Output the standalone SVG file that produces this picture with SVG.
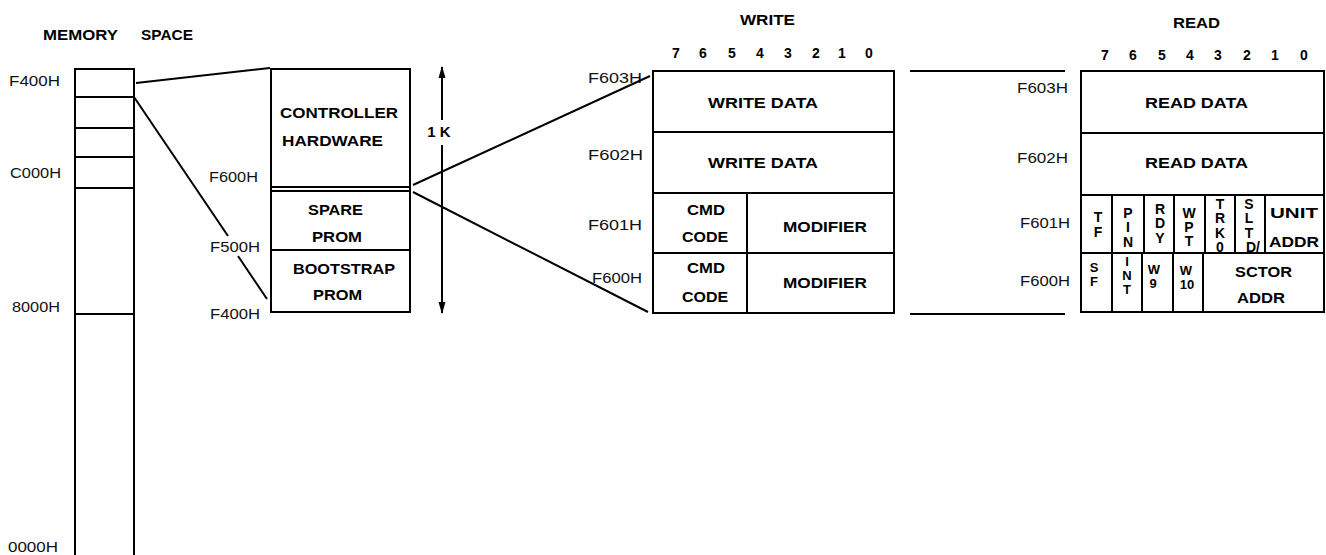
<svg xmlns="http://www.w3.org/2000/svg" width="1326" height="555" viewBox="0 0 1326 555">
<style>
  .ln { stroke:#000; stroke-width:2; fill:none; }
  .bx { stroke:#000; stroke-width:2; fill:#fff; }
  .t { font-family:"Liberation Sans", Arial, sans-serif; font-weight:bold; font-size:15px; fill:#000; }
  .a { font-family:"Liberation Sans", Arial, sans-serif; font-size:14px; fill:#111; }
  .n { font-family:"Liberation Sans", Arial, sans-serif; font-weight:bold; font-size:14px; fill:#000; text-anchor:middle; }
  .s { font-family:"Liberation Sans", Arial, sans-serif; font-weight:bold; font-size:14px; fill:#000; text-anchor:middle; }
  .s2 { font-family:"Liberation Sans", Arial, sans-serif; font-weight:bold; font-size:13px; fill:#000; text-anchor:middle; }
</style>
<defs>
  <marker id="ah" viewBox="0 0 12 8" refX="11" refY="4" markerWidth="12" markerHeight="8" orient="auto" markerUnits="userSpaceOnUse">
    <path d="M0,0.5 L12,4 L0,7.5 Z" fill="#000"/>
  </marker>
</defs>
<rect width="1326" height="555" fill="#fff"/>

<g id="memory-space">
  <text class="t" x="43" y="40" textLength="75" lengthAdjust="spacingAndGlyphs">MEMORY</text>
  <text class="t" x="141" y="40" textLength="52" lengthAdjust="spacingAndGlyphs">SPACE</text>
  <path class="ln" d="M75,555 V69 H134 V555"/>
  <path class="ln" d="M75,97 H134 M75,128 H134 M75,157 H134 M75,188 H134 M75,314 H134"/>
  <text class="a" x="9" y="86" textLength="51" lengthAdjust="spacingAndGlyphs">F400H</text>
  <text class="a" x="10" y="178" textLength="51" lengthAdjust="spacingAndGlyphs">C000H</text>
  <text class="a" x="12" y="312" textLength="48" lengthAdjust="spacingAndGlyphs">8000H</text>
  <text class="a" x="8" y="552" textLength="50" lengthAdjust="spacingAndGlyphs">0000H</text>
</g>

<g id="controller-box">
  <rect class="bx" x="271" y="69" width="139" height="243"/>
  <path class="ln" d="M271,187 H410 M271,191 H410 M271,250 H410"/>
  <text class="t" x="280" y="118" textLength="118" lengthAdjust="spacingAndGlyphs">CONTROLLER</text>
  <text class="t" x="282" y="146" textLength="101" lengthAdjust="spacingAndGlyphs">HARDWARE</text>
  <text class="t" x="308" y="215" textLength="55" lengthAdjust="spacingAndGlyphs">SPARE</text>
  <text class="t" x="312" y="242" textLength="50" lengthAdjust="spacingAndGlyphs">PROM</text>
  <text class="t" x="293" y="274" textLength="102" lengthAdjust="spacingAndGlyphs">BOOTSTRAP</text>
  <text class="t" x="313" y="300" textLength="49" lengthAdjust="spacingAndGlyphs">PROM</text>
  <text class="a" x="209" y="182" textLength="49" lengthAdjust="spacingAndGlyphs">F600H</text>
  <text class="a" x="210" y="252" textLength="50" lengthAdjust="spacingAndGlyphs">F500H</text>
  <text class="a" x="210" y="319" textLength="50" lengthAdjust="spacingAndGlyphs">F400H</text>
  <text class="t" x="439" y="137" text-anchor="middle" font-size="14">1 K</text>
</g>

<g id="write-table">
  <text class="t" x="740" y="25" textLength="55" lengthAdjust="spacingAndGlyphs">WRITE</text>
  <text class="n" x="676" y="58">7</text>
  <text class="n" x="703" y="58">6</text>
  <text class="n" x="732" y="58">5</text>
  <text class="n" x="760" y="58">4</text>
  <text class="n" x="788" y="58">3</text>
  <text class="n" x="816" y="58">2</text>
  <text class="n" x="842" y="58">1</text>
  <text class="n" x="869" y="58">0</text>
  <rect class="bx" x="653" y="71" width="241" height="242"/>
  <path class="ln" d="M653,132 H894 M653,193 H894 M653,253 H894 M747,193 V313"/>
  <text class="t" x="708" y="108" textLength="110" lengthAdjust="spacingAndGlyphs">WRITE DATA</text>
  <text class="t" x="708" y="168" textLength="110" lengthAdjust="spacingAndGlyphs">WRITE DATA</text>
  <text class="t" x="687" y="215" textLength="38" lengthAdjust="spacingAndGlyphs">CMD</text>
  <text class="t" x="682" y="242" textLength="46" lengthAdjust="spacingAndGlyphs">CODE</text>
  <text class="t" x="687" y="273" textLength="38" lengthAdjust="spacingAndGlyphs">CMD</text>
  <text class="t" x="682" y="302" textLength="46" lengthAdjust="spacingAndGlyphs">CODE</text>
  <text class="t" x="783" y="232" textLength="84" lengthAdjust="spacingAndGlyphs">MODIFIER</text>
  <text class="t" x="783" y="288" textLength="84" lengthAdjust="spacingAndGlyphs">MODIFIER</text>
  <text class="a" x="588" y="83" textLength="54" lengthAdjust="spacingAndGlyphs">F603H</text>
  <text class="a" x="588" y="160" textLength="55" lengthAdjust="spacingAndGlyphs">F602H</text>
  <text class="a" x="588" y="230" textLength="54" lengthAdjust="spacingAndGlyphs">F601H</text>
  <text class="a" x="592" y="283" textLength="50" lengthAdjust="spacingAndGlyphs">F600H</text>
</g>

<g id="read-table">
  <text class="t" x="1173" y="28" textLength="47" lengthAdjust="spacingAndGlyphs">READ</text>
  <text class="n" x="1105" y="60">7</text>
  <text class="n" x="1133" y="60">6</text>
  <text class="n" x="1162" y="60">5</text>
  <text class="n" x="1190" y="60">4</text>
  <text class="n" x="1218" y="60">3</text>
  <text class="n" x="1247" y="60">2</text>
  <text class="n" x="1275" y="60">1</text>
  <text class="n" x="1304" y="60">0</text>
  <rect class="bx" x="1081" y="71" width="243" height="241"/>
  <path class="ln" d="M1081,133 H1324 M1081,195 H1324 M1081,253 H1324"/>
  <path class="ln" d="M1112,195 V253 M1144,195 V253 M1174,195 V253 M1205,195 V253 M1235,195 V253 M1265,195 V253"/>
  <path class="ln" d="M1112,253 V312 M1142,253 V312 M1173,253 V312 M1203,253 V312"/>
  <text class="t" x="1145" y="108" textLength="103" lengthAdjust="spacingAndGlyphs">READ DATA</text>
  <text class="t" x="1145" y="168" textLength="103" lengthAdjust="spacingAndGlyphs">READ DATA</text>
  <text class="a" x="1017" y="93" textLength="51" lengthAdjust="spacingAndGlyphs">F603H</text>
  <text class="a" x="1017" y="163" textLength="51" lengthAdjust="spacingAndGlyphs">F602H</text>
  <text class="a" x="1020" y="228" textLength="50" lengthAdjust="spacingAndGlyphs">F601H</text>
  <text class="a" x="1020" y="286" textLength="50" lengthAdjust="spacingAndGlyphs">F600H</text>
  <text class="s"><tspan x="1098" y="222">T</tspan><tspan x="1098" y="237">F</tspan></text>
  <text class="s"><tspan x="1128" y="218">P</tspan><tspan x="1128" y="232">I</tspan><tspan x="1128" y="247">N</tspan></text>
  <text class="s"><tspan x="1160" y="214">R</tspan><tspan x="1160" y="228">D</tspan><tspan x="1160" y="243">Y</tspan></text>
  <text class="s"><tspan x="1189" y="218">W</tspan><tspan x="1189" y="232">P</tspan><tspan x="1189" y="246">T</tspan></text>
  <text class="s"><tspan x="1220" y="209">T</tspan><tspan x="1220" y="223">R</tspan><tspan x="1220" y="238">K</tspan><tspan x="1220" y="252">0</tspan></text>
  <text class="s"><tspan x="1249" y="209">S</tspan><tspan x="1249" y="223">L</tspan><tspan x="1249" y="238">T</tspan><tspan x="1253" y="252">D/</tspan></text>
  <text class="t" x="1270" y="218" textLength="48" lengthAdjust="spacingAndGlyphs">UNIT</text>
  <text class="t" x="1269" y="247" textLength="50" lengthAdjust="spacingAndGlyphs">ADDR</text>
  <text class="s2"><tspan x="1094" y="272">S</tspan><tspan x="1094" y="286">F</tspan></text>
  <text class="s2"><tspan x="1127" y="266">I</tspan><tspan x="1127" y="280">N</tspan><tspan x="1127" y="294">T</tspan></text>
  <text class="s2"><tspan x="1154" y="274">W</tspan><tspan x="1153" y="288">9</tspan></text>
  <text class="s2"><tspan x="1186" y="275">W</tspan><tspan x="1187" y="289">10</tspan></text>
  <text class="t" x="1235" y="277" textLength="57" lengthAdjust="spacingAndGlyphs">SCTOR</text>
  <text class="t" x="1237" y="303" textLength="48" lengthAdjust="spacingAndGlyphs">ADDR</text>
</g>

<g id="connectors">
  <line class="ln" x1="136" y1="83" x2="270" y2="68"/>
  <line class="ln" x1="134" y1="97" x2="228" y2="236"/>
  <line class="ln" x1="238" y1="256" x2="267" y2="299"/>
  <line class="ln" x1="413" y1="185" x2="650" y2="76"/>
  <line class="ln" x1="413" y1="192" x2="648" y2="312"/>
  <line class="ln" x1="442" y1="120" x2="442" y2="67" marker-end="url(#ah)"/>
  <line class="ln" x1="442" y1="145" x2="442" y2="313" marker-end="url(#ah)"/>
  <line class="ln" x1="910" y1="71" x2="1065" y2="71"/>
  <line class="ln" x1="910" y1="314" x2="1065" y2="314"/>
</g>
</svg>
